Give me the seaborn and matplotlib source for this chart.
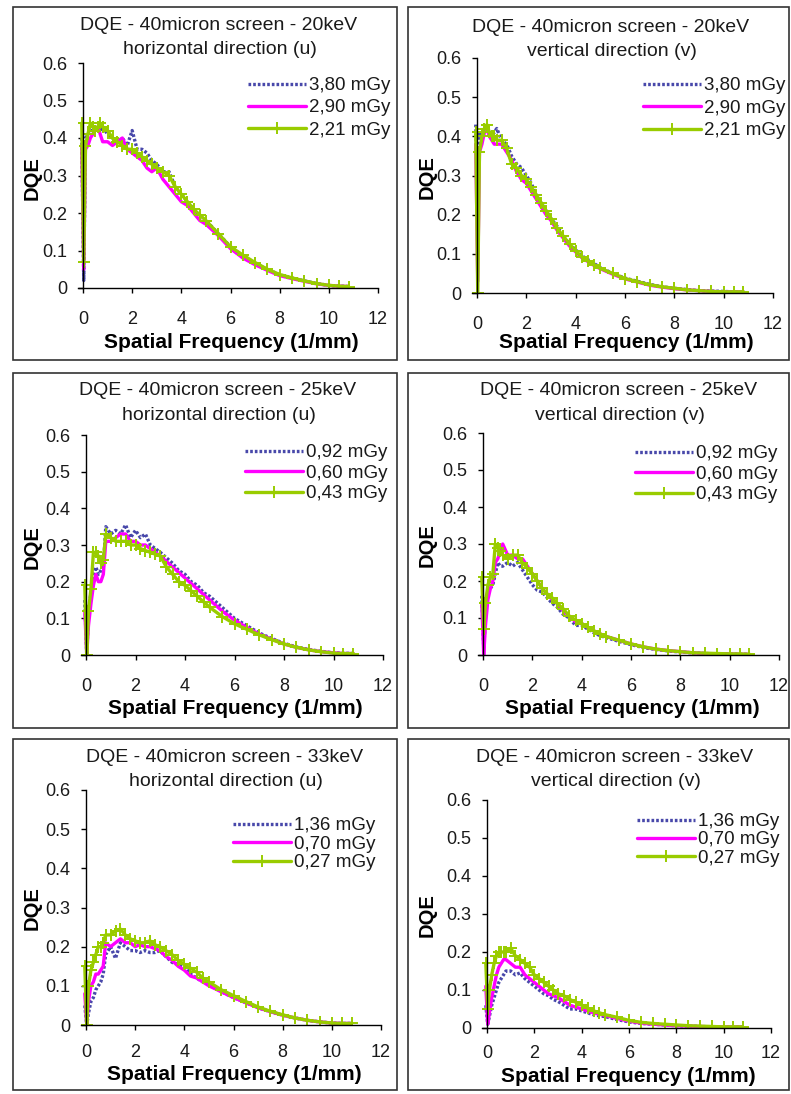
import matplotlib.pyplot as plt
import seaborn as sns
import numpy as np
import pandas as pd

# Spatial frequency sampling (1/mm), shared by every curve
freq = [-0.05, 0.03, 0.1, 0.2, 0.3, 0.4, 0.5, 0.6, 0.7, 0.8, 1.0, 1.2, 1.4, 1.6, 1.8,
        2.0, 2.2, 2.4, 2.6, 2.8, 3.0, 3.25, 3.5, 3.75, 4.0, 4.25, 4.5, 4.75, 5.0, 5.5,
        6.0, 6.5, 7.0, 7.5, 8.0, 8.5, 9.0, 9.5, 10.0, 10.4, 10.8]

# 20 keV, horizontal (u)
u20_a = [0.40, 0.02, 0.40, 0.41, 0.42, 0.42, 0.43, 0.43, 0.42, 0.43, 0.41, 0.40, 0.39, 0.40, 0.38,
         0.42, 0.37, 0.37, 0.36, 0.34, 0.33, 0.31, 0.31, 0.27, 0.25, 0.23, 0.21, 0.19, 0.18, 0.145,
         0.11, 0.085, 0.065, 0.05, 0.035, 0.027, 0.019, 0.012, 0.007, 0.005, 0.004]
u20_b = [0.38, 0.05, 0.37, 0.38, 0.40, 0.41, 0.42, 0.43, 0.41, 0.39, 0.39, 0.38, 0.39, 0.40, 0.37,
         0.36, 0.35, 0.34, 0.32, 0.31, 0.32, 0.29, 0.27, 0.25, 0.23, 0.22, 0.20, 0.18, 0.17, 0.14,
         0.105, 0.08, 0.062, 0.047, 0.033, 0.025, 0.018, 0.011, 0.007, 0.005, 0.004]
u20_c = [0.44, 0.07, 0.38, 0.41, 0.44, 0.43, 0.42, 0.43, 0.44, 0.43, 0.42, 0.40, 0.39, 0.38, 0.37,
         0.37, 0.36, 0.35, 0.34, 0.33, 0.32, 0.31, 0.30, 0.27, 0.25, 0.23, 0.21, 0.195, 0.18, 0.145,
         0.11, 0.088, 0.068, 0.05, 0.036, 0.027, 0.019, 0.012, 0.007, 0.005, 0.004]

# 20 keV, vertical (v)
v20_a = [0.43, 0.22, 0.41, 0.40, 0.41, 0.42, 0.41, 0.40, 0.41, 0.42, 0.39, 0.38, 0.35, 0.33, 0.32,
         0.30, 0.28, 0.25, 0.23, 0.21, 0.19, 0.17, 0.145, 0.125, 0.11, 0.095, 0.085, 0.075, 0.065, 0.05,
         0.038, 0.03, 0.022, 0.016, 0.012, 0.009, 0.006, 0.005, 0.004, 0.003, 0.003]
v20_b = [0.38, 0.03, 0.36, 0.38, 0.41, 0.42, 0.40, 0.39, 0.38, 0.38, 0.38, 0.36, 0.34, 0.31, 0.29,
         0.28, 0.26, 0.24, 0.22, 0.20, 0.185, 0.16, 0.14, 0.12, 0.105, 0.09, 0.08, 0.07, 0.062, 0.048,
         0.036, 0.028, 0.02, 0.015, 0.011, 0.008, 0.006, 0.004, 0.003, 0.003, 0.003]
v20_c = [0.41, 0.00, 0.36, 0.40, 0.42, 0.43, 0.41, 0.40, 0.40, 0.39, 0.39, 0.37, 0.33, 0.32, 0.30,
         0.29, 0.27, 0.25, 0.23, 0.21, 0.19, 0.165, 0.145, 0.125, 0.108, 0.092, 0.082, 0.072, 0.063, 0.05,
         0.037, 0.029, 0.021, 0.016, 0.012, 0.008, 0.006, 0.004, 0.003, 0.003, 0.003]

# 25 keV, horizontal (u)
u25_a = [0.15, 0.00, 0.12, 0.17, 0.22, 0.24, 0.22, 0.23, 0.24, 0.35, 0.33, 0.34, 0.33, 0.355, 0.32,
         0.34, 0.32, 0.33, 0.30, 0.29, 0.28, 0.265, 0.25, 0.23, 0.22, 0.20, 0.19, 0.17, 0.16, 0.13,
         0.10, 0.08, 0.06, 0.045, 0.032, 0.022, 0.015, 0.01, 0.006, 0.005, 0.004]
u25_b = [0.12, 0.00, 0.08, 0.14, 0.19, 0.22, 0.20, 0.20, 0.22, 0.31, 0.31, 0.32, 0.33, 0.33, 0.31,
         0.31, 0.30, 0.30, 0.29, 0.28, 0.27, 0.255, 0.24, 0.225, 0.21, 0.195, 0.18, 0.165, 0.15, 0.12,
         0.095, 0.075, 0.057, 0.043, 0.03, 0.021, 0.014, 0.009, 0.006, 0.004, 0.004]
u25_c = [0.19, 0.00, 0.12, 0.18, 0.28, 0.28, 0.27, 0.25, 0.26, 0.33, 0.32, 0.31, 0.31, 0.31, 0.30,
         0.30, 0.29, 0.285, 0.28, 0.275, 0.27, 0.24, 0.22, 0.20, 0.19, 0.175, 0.16, 0.145, 0.13, 0.105,
         0.085, 0.07, 0.055, 0.042, 0.03, 0.021, 0.014, 0.009, 0.005, 0.004, 0.004]

# 25 keV, vertical (v)
v25_a = [0.16, 0.02, 0.10, 0.17, 0.18, 0.19, 0.22, 0.25, 0.24, 0.24, 0.25, 0.24, 0.25, 0.23, 0.21,
         0.19, 0.175, 0.17, 0.155, 0.14, 0.13, 0.11, 0.10, 0.08, 0.08, 0.07, 0.06, 0.052, 0.047, 0.037,
         0.028, 0.02, 0.015, 0.011, 0.008, 0.006, 0.004, 0.003, 0.003, 0.002, 0.002]
v25_b = [0.14, 0.00, 0.08, 0.15, 0.18, 0.20, 0.25, 0.26, 0.28, 0.30, 0.27, 0.27, 0.26, 0.26, 0.24,
         0.22, 0.20, 0.18, 0.165, 0.15, 0.14, 0.12, 0.105, 0.09, 0.085, 0.075, 0.065, 0.057, 0.05, 0.04,
         0.03, 0.022, 0.016, 0.012, 0.009, 0.006, 0.004, 0.003, 0.003, 0.002, 0.002]
v25_c = [0.21, 0.07, 0.14, 0.19, 0.21, 0.22, 0.30, 0.29, 0.28, 0.27, 0.26, 0.27, 0.27, 0.25, 0.235,
         0.22, 0.20, 0.18, 0.165, 0.155, 0.14, 0.125, 0.105, 0.095, 0.085, 0.075, 0.065, 0.057, 0.05, 0.04,
         0.03, 0.022, 0.016, 0.012, 0.009, 0.006, 0.005, 0.004, 0.003, 0.003, 0.002]

# 33 keV, horizontal (u)
u33_a = [0.05, 0.00, 0.03, 0.06, 0.07, 0.09, 0.10, 0.11, 0.13, 0.18, 0.20, 0.17, 0.21, 0.20, 0.19,
         0.19, 0.185, 0.19, 0.185, 0.185, 0.19, 0.175, 0.16, 0.155, 0.15, 0.13, 0.12, 0.11, 0.105, 0.085,
         0.07, 0.057, 0.044, 0.034, 0.025, 0.018, 0.012, 0.008, 0.005, 0.004, 0.004]
u33_b = [0.08, 0.00, 0.06, 0.10, 0.11, 0.13, 0.13, 0.14, 0.15, 0.21, 0.20, 0.21, 0.22, 0.21, 0.21,
         0.20, 0.205, 0.20, 0.20, 0.195, 0.19, 0.175, 0.165, 0.15, 0.14, 0.125, 0.12, 0.11, 0.10, 0.085,
         0.07, 0.057, 0.044, 0.034, 0.025, 0.018, 0.012, 0.008, 0.005, 0.004, 0.004]
u33_c = [0.15, 0.00, 0.10, 0.14, 0.16, 0.18, 0.20, 0.20, 0.21, 0.23, 0.23, 0.24, 0.245, 0.23, 0.22,
         0.215, 0.21, 0.21, 0.215, 0.205, 0.20, 0.19, 0.18, 0.165, 0.155, 0.145, 0.135, 0.12, 0.11, 0.09,
         0.075, 0.06, 0.046, 0.035, 0.026, 0.018, 0.012, 0.008, 0.005, 0.004, 0.004]

# 33 keV, vertical (v)
v33_a = [0.06, 0.01, 0.03, 0.06, 0.08, 0.10, 0.12, 0.13, 0.14, 0.15, 0.15, 0.14, 0.145, 0.13, 0.12,
         0.11, 0.10, 0.09, 0.085, 0.075, 0.07, 0.06, 0.05, 0.05, 0.045, 0.04, 0.035, 0.032, 0.03, 0.022,
         0.016, 0.012, 0.01, 0.008, 0.006, 0.005, 0.004, 0.003, 0.003, 0.003, 0.003]
v33_b = [0.11, 0.01, 0.04, 0.08, 0.11, 0.14, 0.16, 0.17, 0.18, 0.18, 0.17, 0.16, 0.16, 0.14, 0.13,
         0.12, 0.11, 0.10, 0.09, 0.085, 0.08, 0.07, 0.06, 0.055, 0.05, 0.045, 0.04, 0.036, 0.033, 0.025,
         0.018, 0.013, 0.01, 0.008, 0.006, 0.005, 0.004, 0.003, 0.003, 0.003, 0.003]
v33_c = [0.17, 0.05, 0.10, 0.14, 0.17, 0.19, 0.20, 0.20, 0.20, 0.20, 0.21, 0.19, 0.18, 0.17, 0.16,
         0.14, 0.13, 0.12, 0.11, 0.10, 0.09, 0.085, 0.075, 0.068, 0.06, 0.052, 0.045, 0.04, 0.035, 0.028,
         0.02, 0.015, 0.012, 0.01, 0.008, 0.006, 0.005, 0.004, 0.003, 0.003, 0.003]

energies = ["20keV", "20keV", "25keV", "25keV", "33keV", "33keV"]
directions = ["horizontal direction (u)", "vertical direction (v)"] * 3
doses = [["3,80 mGy", "2,90 mGy", "2,21 mGy"]] * 2 + [["0,92 mGy", "0,60 mGy", "0,43 mGy"]] * 2 \
    + [["1,36 mGy", "0,70 mGy", "0,27 mGy"]] * 2
series = [[u20_a, u20_b, u20_c], [v20_a, v20_b, v20_c],
          [u25_a, u25_b, u25_c], [v25_a, v25_b, v25_c],
          [u33_a, u33_b, u33_c], [v33_a, v33_b, v33_c]]

sns.set_theme(style="white")
plt.rcParams['font.family'] = ['Liberation Sans', 'DejaVu Sans']

W, H = 791, 1094
fig = plt.figure(figsize=(W / 100, H / 100), dpi=100)


def fx(px):
    return px / W


def fy(py):
    return 1 - py / H


# layout in pixels: box, x=0 / x=12 / y=0 / y=0.6 positions, title centre, labels, legend corner
layout = [
    dict(box=(13, 7, 397, 360), x0=83, x12=378, y0=288, y6=63, tx=219, ty=25,
         yl=(32, 178), xl=(231, 342), leg=(390, 77), ls=0.27, pad=13),
    dict(box=(408, 7, 789, 360), x0=477, x12=773, y0=293, y6=58, tx=611, ty=27,
         yl=(427, 177), xl=(626, 343), leg=(785, 77), ls=0.29, pad=13),
    dict(box=(13, 373, 397, 728), x0=86, x12=383, y0=655, y6=435, tx=218, ty=391,
         yl=(32, 547), xl=(235, 709), leg=(387, 444), ls=0.18, pad=13),
    dict(box=(408, 373, 789, 728), x0=483, x12=779, y0=655, y6=433, tx=619, ty=391,
         yl=(427, 545), xl=(632, 709), leg=(777, 445), ls=0.18, pad=13),
    dict(box=(13, 739, 397, 1090), x0=86, x12=381, y0=1025, y6=790, tx=225, ty=757,
         yl=(32, 908), xl=(234, 1075), leg=(375, 817), ls=0.08, pad=10),
    dict(box=(408, 739, 789, 1090), x0=487, x12=771, y0=1028, y6=800, tx=615, ty=757,
         yl=(427, 915), xl=(628, 1077), leg=(779, 813), ls=0.06, pad=9),
]

styles = [
    dict(color="#4848aa", linestyle=(0, (0.8, 0.6)), linewidth=2.4),
    dict(color="#ff00ff", linestyle="-", linewidth=2.4),
    dict(color="#99cc00", linestyle="-", linewidth=2.4, marker="+", markersize=8,
         markeredgewidth=1.4, markeredgecolor="#99cc00"),
]

text_col = "#1a1a1a"

for i, lay in enumerate(layout):
    bx0, by0, bx1, by1 = lay["box"]
    fig.add_artist(plt.Rectangle((fx(bx0), fy(by1)), fx(bx1 - bx0), (by1 - by0) / H,
                                 transform=fig.transFigure, fill=False,
                                 edgecolor="#333333", linewidth=1.2))

    unit = (lay["x12"] - lay["x0"]) / 12
    left = lay["x0"] - 0.2 * unit
    ax = fig.add_axes([fx(left), fy(lay["y0"]), fx(lay["x12"] - left),
                       (lay["y0"] - lay["y6"]) / H])
    ax.set_facecolor("none")

    for k in range(3):
        df = pd.DataFrame({"freq": freq, "dqe": series[i][k]})
        sns.lineplot(data=df, x="freq", y="dqe", ax=ax, sort=False, estimator=None,
                     label=doses[i][k], **styles[k])

    ax.set_xlim(-0.2, 12)
    ax.set_ylim(0, 0.6)
    ax.set_xticks(np.arange(0, 13, 2))
    ax.set_xticklabels([str(v) for v in range(0, 13, 2)])
    ax.set_yticks(np.arange(0, 0.61, 0.1))
    ax.set_yticklabels(["0", "0.1", "0.2", "0.3", "0.4", "0.5", "0.6"])
    ax.spines["top"].set_visible(False)
    ax.spines["right"].set_visible(False)
    ax.spines["left"].set_position(("data", 0))
    for s in ("left", "bottom"):
        ax.spines[s].set_color("black")
        ax.spines[s].set_linewidth(1.0)
    ax.tick_params(axis="x", direction="out", length=3.5, width=1, pad=lay["pad"],
                   labelsize=13, labelcolor=text_col, color="black", bottom=True)
    ax.tick_params(axis="y", direction="out", length=3.5, width=1, pad=8,
                   labelsize=13, labelcolor=text_col, color="black", left=True)
    ax.set_xlabel("")
    ax.set_ylabel("")

    leg = ax.legend(loc="upper right", bbox_to_anchor=(fx(lay["leg"][0]), fy(lay["leg"][1])),
                    bbox_transform=fig.transFigure, frameon=False, fontsize=13.5,
                    handlelength=3.1, handletextpad=0.15, labelspacing=lay["ls"],
                    borderpad=0, borderaxespad=0)
    for t in leg.get_texts():
        t.set_color(text_col)

    fig.text(fx(lay["tx"]), fy(lay["ty"]), "DQE - 40micron screen - " + energies[i],
             ha="center", va="center", fontsize=14, color=text_col)
    fig.text(fx(lay["tx"] + 1), fy(lay["ty"] + 25), directions[i],
             ha="center", va="center", fontsize=14, color=text_col)
    fig.text(fx(lay["yl"][0]), fy(lay["yl"][1]), "DQE", rotation=90,
             ha="center", va="center", fontsize=14.5, fontweight="bold", color="black")
    fig.text(fx(lay["xl"][0]), fy(lay["xl"][1]), "Spatial Frequency (1/mm)",
             ha="center", va="center", fontsize=15, fontweight="bold", color="black")

fig.savefig("out.png", dpi=100, facecolor="white")
